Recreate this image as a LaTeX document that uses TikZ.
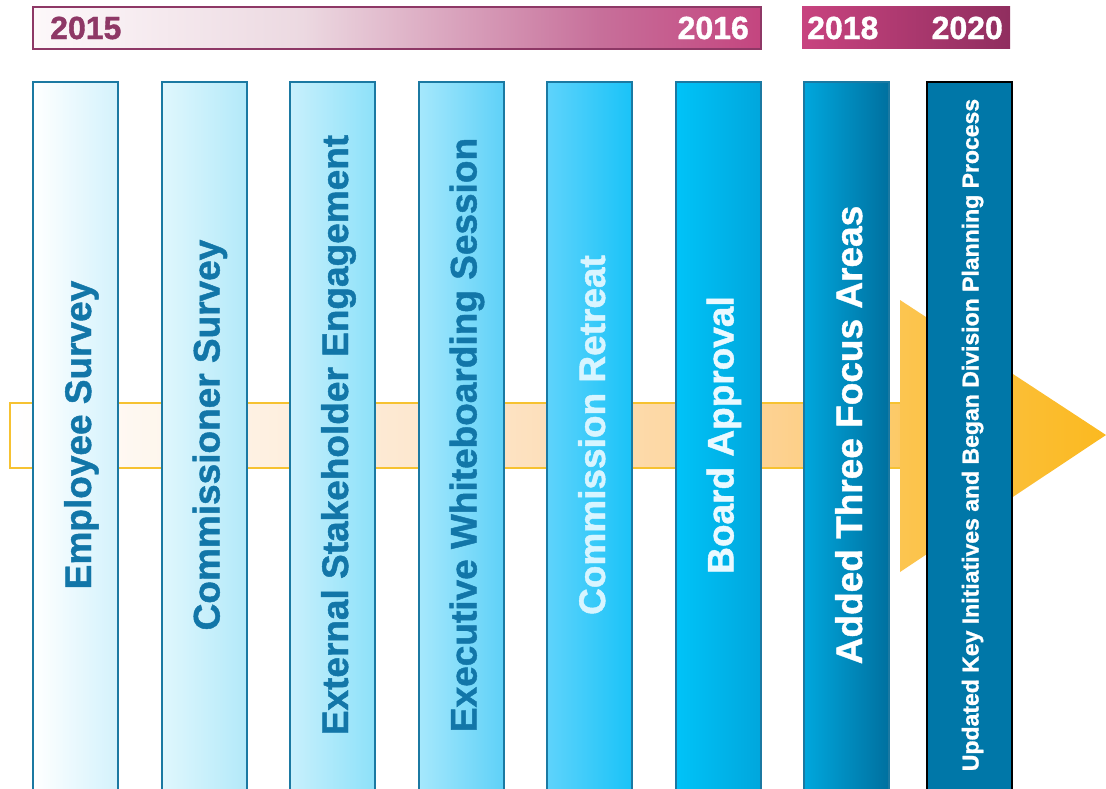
\documentclass[tikz,border=0pt]{standalone}
\usepackage{fontspec}
\setmainfont{Liberation Sans}
\newfontfamily\heavyfont{Liberation Sans}[BoldFeatures={FakeBold=1.2}]
\usetikzlibrary{positioning}

\definecolor{colline}{HTML}{1B79A2}
\definecolor{lbldark}{HTML}{1276A8}
\definecolor{plumline}{HTML}{8E3866}
\definecolor{arrowline}{HTML}{F6C231}
\definecolor{headl}{HTML}{FCC550}
\definecolor{headr}{HTML}{FBB920}
\definecolor{sh0}{HTML}{FFFFFF}
\definecolor{sh1}{HTML}{FDE4C8}
\definecolor{sh2}{HTML}{FDD18F}
\definecolor{sh3}{HTML}{FCC965}
\definecolor{yr0}{HTML}{FDF8FA}
\definecolor{yr1}{HTML}{ECD9E1}
\definecolor{yr2}{HTML}{C76F9A}
\definecolor{yr3}{HTML}{C4457F}
\definecolor{bartwol}{HTML}{C8437F}
\definecolor{bartwor}{HTML}{902E5F}
\definecolor{c1l}{HTML}{FFFFFF}\definecolor{c1r}{HTML}{D3F2FC}
\definecolor{c2l}{HTML}{E0F7FD}\definecolor{c2r}{HTML}{B3E9F9}
\definecolor{c3l}{HTML}{C8F0FC}\definecolor{c3r}{HTML}{8DE1F9}
\definecolor{c4l}{HTML}{A6E8FC}\definecolor{c4r}{HTML}{5FD1F8}
\definecolor{c5l}{HTML}{5ED3FB}\definecolor{c5r}{HTML}{1AC3F8}
\definecolor{c6l}{HTML}{00C3F8}\definecolor{c6r}{HTML}{00A7DD}
\definecolor{c7l}{HTML}{00A7DD}\definecolor{c7r}{HTML}{00709F}
\definecolor{c8fill}{HTML}{0077A8}
\definecolor{lbl5}{HTML}{D8F5FF}
\definecolor{lbl6}{HTML}{EAF9FF}

\pgfdeclarehorizontalshading{shaftshade}{100bp}{color(0bp)=(sh0); color(25bp)=(sh0); color(51bp)=(sh1); color(68bp)=(sh2); color(75bp)=(sh3); color(100bp)=(sh3)}
\pgfdeclarehorizontalshading{yearshade}{100bp}{color(0bp)=(yr0); color(25bp)=(yr0); color(43.5bp)=(yr1); color(64bp)=(yr2); color(75bp)=(yr3); color(100bp)=(yr3)}

\begin{document}
\begin{tikzpicture}[x=1pt,y=-1pt,node distance=43.5pt,
  col/.style={draw=colline,line width=2pt,minimum width=85pt,minimum height=720pt,inner sep=0pt,outer sep=0pt},
  lbl/.style={rotate=90,font=\fontsize{37}{40}\selectfont\heavyfont\bfseries,text height=31pt,text depth=0pt,inner sep=0pt},
  yeartxt/.style={font=\fontsize{32}{36}\selectfont\heavyfont\bfseries,inner sep=0pt},
  yearbar/.style={minimum height=42pt,inner sep=0pt,outer sep=0pt,anchor=north west}]
\clip (0,0) rectangle (1106,789);

% big arrow behind the steps
\shadedraw[shading=shaftshade,draw=arrowline,line width=2pt] (10,403) rectangle (905,468);
\shade[left color=headl,right color=headr] (900,300) -- (1106,435) -- (900,572) -- cycle;

% steps
\node[col,left color=c1l,right color=c1r,anchor=north west] (c1) at (33,82) {};
\node[col,left color=c2l,right color=c2r,right=of c1] (c2) {};
\node[col,left color=c3l,right color=c3r,right=of c2] (c3) {};
\node[col,left color=c4l,right color=c4r,right=of c3] (c4) {};
\node[col,left color=c5l,right color=c5r,right=of c4] (c5) {};
\node[col,left color=c6l,right color=c6r,right=of c5] (c6) {};
\node[col,left color=c7l,right color=c7r,right=of c6] (c7) {};
\node[col,draw=black,line width=2.5pt,fill=c8fill,right=38pt of c7] (c8) {};

\coordinate (mid) at (0,435);
\node[lbl,text=lbldark] (l1) at (c1 |- mid) {Employee Survey};
\node[lbl,text=lbldark] (l2) at (c2 |- mid) {Commissioner Survey};
\node[lbl,text=lbldark] (l3) at (c3 |- mid) {External Stakeholder Engagement};
\node[lbl,text=lbldark] (l4) at (c4 |- mid) {Executive Whiteboarding Session};
\node[lbl,text=lbl5] (l5) at (c5 |- mid) {Commission Retreat};
\node[lbl,text=lbl6] (l6) at (c6 |- mid) {Board Approval};
\node[lbl,text=white] (l7) at (c7 |- mid) {Added Three Focus Areas};
\node[lbl,text=white,text height=18pt,font=\fontsize{23}{26}\selectfont\heavyfont\bfseries] (l8) at (c8 |- mid) {Updated Key Initiatives and Began Division Planning Process};

% years
\node[yearbar,shade,shading=yearshade,draw=plumline,line width=2.5pt,minimum width=728pt] (span1) at (33,7) {};
\node[yearbar,left color=bartwol,right color=bartwor,minimum width=208pt] (span2) at (802,7) {};
\node[yeartxt,text=plumline,anchor=west] (y15) at ([xshift=17pt]span1.west) {2015};
\node[yeartxt,text=white,anchor=east] (y16) at ([xshift=-12pt]span1.east) {2016};
\node[yeartxt,text=white,anchor=west] (y18) at ([xshift=5pt]span2.west) {2018};
\node[yeartxt,text=white,anchor=east] (y20) at ([xshift=-7pt]span2.east) {2020};
\end{tikzpicture}
\end{document}
